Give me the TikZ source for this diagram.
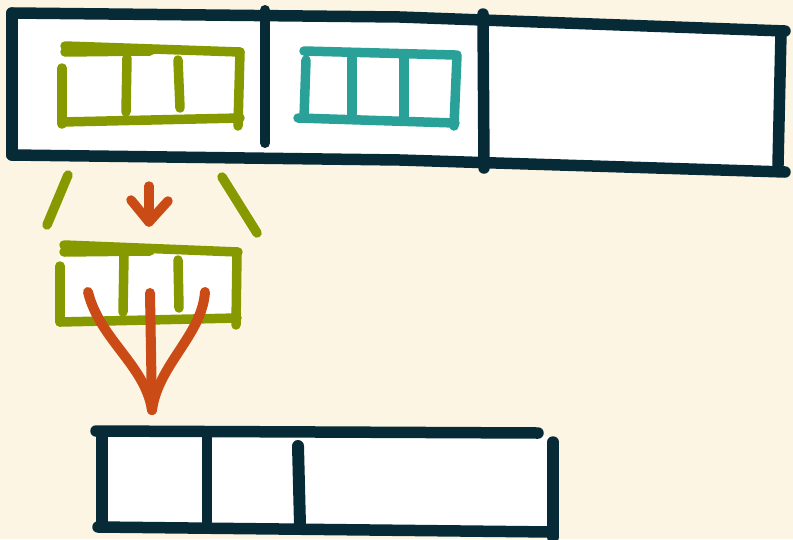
\documentclass[tikz,border=0pt]{standalone}
\definecolor{paper}{HTML}{FDF5E3}
\definecolor{navyink}{HTML}{062B37}
\definecolor{leaf}{HTML}{869A00}
\definecolor{sea}{HTML}{2AA198}
\definecolor{rust}{HTML}{CB4B16}
\tikzset{
  pen/.style={line width=#1, line cap=round, line join=round},
  pen/.default=11.5pt
}
\begin{document}
\begin{tikzpicture}[x=1pt,y=-1pt]
  % Paper
  \fill[paper] (0,0) rectangle (793,539);
  \useasboundingbox (0,0) rectangle (793,539);
  % Top strip, white inside
  \fill[white] (12,13) -- (785,30) -- (780,170) -- (12,155) -- cycle;
  \draw[pen,navyink] (12,13) -- (400,17) -- (785,31);
  \draw[pen,navyink] (12,155) -- (400,160) -- (785,172);
  \draw[pen,navyink] (12,13) -- (12,155);
  \draw[pen,navyink] (781,33) -- (778,165);
  % Top strip dividers
  \draw[pen=10pt,navyink] (265,10) -- (265,143);
  \draw[pen,navyink] (483,14) -- (484,168);
  % Green block in first cell
  \draw[pen=9.5pt,leaf] (65,46) -- (240,52);
  \draw[pen=9.5pt,leaf] (65,52) -- (150,51);
  \draw[pen=9.5pt,leaf] (62,68) -- (62,124);
  \draw[pen=9.5pt,leaf] (62,122) -- (240,118);
  \draw[pen=9.5pt,leaf] (240,52) -- (238,126);
  \draw[pen=9.5pt,leaf] (127,58) -- (126,112);
  \draw[pen=9.5pt,leaf] (178,60) -- (180,108);
  % Teal block in second cell
  \draw[pen=9.5pt,sea] (304,51) -- (455,55);
  \draw[pen=9.5pt,sea] (306,60) -- (304,118);
  \draw[pen=9.5pt,sea] (298,118) -- (455,123);
  \draw[pen=9.5pt,sea] (457,55) -- (454,126);
  \draw[pen=9.5pt,sea] (352,58) -- (352,117);
  \draw[pen=9.5pt,sea] (404,58) -- (404,118);
  % Slanted guides
  \draw[pen=9.5pt,leaf] (68,175) -- (47,225);
  \draw[pen=9.5pt,leaf] (222,177) -- (257,233);
  % Small arrow
  \coordinate (drop) at (149,222);
  \draw[pen=9.5pt,rust] (149,186) -- (drop);
  \draw[pen=9.5pt,rust] (131,200) -- (drop) -- (168,201);
  % Copied green block
  \fill[white] (60,250) rectangle (240,322);
  \draw[pen=9.5pt,leaf] (64,245) -- (238,252);
  \draw[pen=9.5pt,leaf] (64,252) -- (150,251);
  \draw[pen=9.5pt,leaf] (60,266) -- (60,322);
  \draw[pen=9.5pt,leaf] (60,322) -- (237,318);
  \draw[pen=9.5pt,leaf] (237,253) -- (236,325);
  \draw[pen=9.5pt,leaf] (124,256) -- (123,312);
  \draw[pen=9.5pt,leaf] (178,260) -- (179,308);
  % Fan arrow
  \coordinate (fan) at (152,410);
  \draw[pen=10pt,rust] (88,292) .. controls (100,340) and (145,365) .. (fan);
  \draw[pen=10pt,rust] (150,293) -- (fan);
  \draw[pen=10pt,rust] (205,292) .. controls (202,335) and (158,365) .. (fan);
  % Bottom strip, white inside
  \fill[white] (100,432) -- (540,433) -- (553,440) -- (553,532) -- (100,528) -- cycle;
  \draw[pen,navyink] (96,431) -- (538,433);
  \draw[pen,navyink] (98,527) -- (552,532);
  \draw[pen,navyink] (102,432) -- (102,525);
  \draw[pen,navyink] (553,442) -- (553,537);
  % Bottom strip dividers
  \draw[pen=10pt,navyink] (207,432) -- (207,522);
  \draw[pen=12pt,navyink] (298,446) -- (300,525);
\end{tikzpicture}
\end{document}
